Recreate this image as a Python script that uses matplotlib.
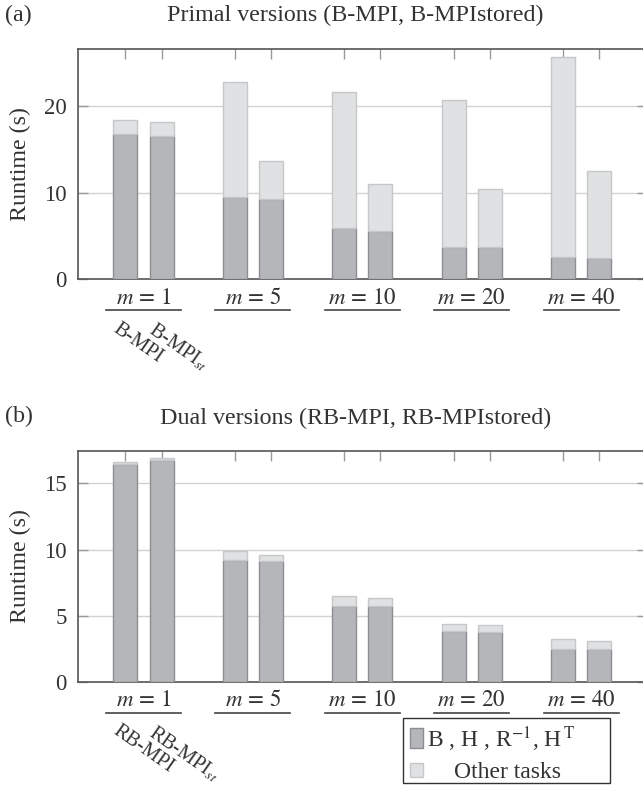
import matplotlib
matplotlib.use("Agg")
import matplotlib.pyplot as plt
import matplotlib.transforms as mtransforms
from matplotlib.patches import Rectangle
from matplotlib.lines import Line2D
import numpy as np

plt.rcParams['font.family'] = ['Liberation Serif', 'DejaVu Serif']
plt.rcParams['mathtext.fontset'] = 'stix'
plt.rcParams['font.size'] = 17

groups = ["1", "5", "10", "20", "40"]

# Primal versions (a)
bmpi_core = [16.8, 9.46, 5.95, 3.69, 2.54]
bmpi_other = [1.54, 13.34, 15.62, 16.99, 23.06]
bmpist_core = [16.5, 9.3, 5.57, 3.67, 2.42]
bmpist_other = [1.6, 4.3, 5.43, 6.71, 10.04]

# Dual versions (b)
rbmpi_core = [16.43, 9.21, 5.71, 3.82, 2.46]
rbmpi_other = [0.15, 0.7, 0.75, 0.55, 0.76]
rbmpist_core = [16.74, 9.13, 5.76, 3.79, 2.46]
rbmpist_other = [0.19, 0.45, 0.55, 0.48, 0.63]

DARK = '#b4b6b9'
DARK_E = '#8c8e91'
LIGHT = '#e0e1e3'
LIGHT_E = '#c6c7c9'
SPINE = '#555555'
TXT = '#333333'

W, H = 643, 796
fig = plt.figure(figsize=(W / 100, H / 100), dpi=100)

def px(v):
    return v * 0.72  # pixels -> points at dpi 100

def panel(rect, core1, other1, core2, other2, ylim, yticks, names, title, tag, title_y, tag_y):
    ax = fig.add_axes(rect)
    x = np.arange(len(groups))
    off = 0.1655
    bw = 0.22
    for xs, core, other in [(x - off, core1, other1), (x + off, core2, other2)]:
        ax.bar(xs, core, width=bw, color=DARK, edgecolor=DARK_E, linewidth=1.0, zorder=3)
        ax.bar(xs, other, width=bw, bottom=core, color=LIGHT, edgecolor=LIGHT_E, linewidth=1.0, zorder=3)
    ax.set_xlim(-0.601, 4.6)
    ax.set_ylim(*ylim)
    ax.set_yticks(yticks)
    ax.yaxis.grid(True, color='#d2d2d2', linewidth=1.0, zorder=0)
    ax.set_axisbelow(True)
    ax.tick_params(axis='y', direction='in', length=7, width=1.0, color='#9a9a9a', right=True,
                   labelsize=16.5, pad=8, labelcolor=TXT)
    ax.set_xticks(np.concatenate([x - off, x + off]))
    ax.tick_params(axis='x', direction='in', length=7, width=1.0, color='#9a9a9a', top=True,
                   bottom=False, labelbottom=False)
    for s in ax.spines.values():
        s.set_color(SPINE)
        s.set_linewidth(1.2)
    ax.set_ylabel('Runtime (s)', fontsize=17.3, labelpad=9, color=TXT)

    blend = mtransforms.blended_transform_factory(ax.transData, ax.transAxes)
    lab_t = mtransforms.offset_copy(blend, fig, y=-px(19.0), units='points')
    line_t = mtransforms.offset_copy(blend, fig, y=-px(30.7), units='points')
    rot_t = mtransforms.offset_copy(blend, fig, x=-px(5), y=-px(40), units='points')
    for i, g in enumerate(groups):
        ax.text(i, 0, '$m\\,=\\,' + g + '$', transform=lab_t, ha='center', va='center',
                fontsize=16.5, color=TXT)
        ax.add_line(Line2D([i - 0.342, i + 0.342], [0, 0], transform=line_t, color='#444444',
                           linewidth=1.2, clip_on=False))
    ax.text(0 - off, 0, names[0], transform=rot_t, rotation=-35, rotation_mode='anchor',
            ha='left', va='top', fontsize=14.5, color=TXT)
    ax.text(0 + off, 0, names[1], transform=rot_t, rotation=-35, rotation_mode='anchor',
            ha='left', va='top', fontsize=14.5, color=TXT)
    fig.text(355.5 / W, 1 - title_y / H, title, ha='center', va='center', fontsize=17.3, color=TXT)
    fig.text(5 / W, 1 - tag_y / H, tag, ha='left', va='center', fontsize=17.3, color=TXT)
    return ax

ax1 = panel([0.1208, 0.6491, 0.885, 0.2893], bmpi_core, bmpi_other, bmpist_core, bmpist_other,
            (0, 26.56), [0, 10, 20], ['B-MPI', 'B-MPI$_{st}$'],
            'Primal versions (B-MPI, B-MPIstored)', '(a)', 15, 15)
ax2 = panel([0.1208, 0.1433, 0.885, 0.2901], rbmpi_core, rbmpi_other, rbmpist_core, rbmpist_other,
            (0, 17.44), [0, 5, 10, 15], ['RB-MPI', 'RB-MPI$_{st}$'],
            'Dual versions (RB-MPI, RB-MPIstored)', '(b)', 418, 416)

# legend box (figure pixel coords)
def fr(xp, yp):
    return xp / W, 1 - yp / H

x0, y0 = fr(402.7, 783.3)
x1, y1 = fr(610, 718.3)
fig.add_artist(Rectangle((x0, y0), x1 - x0, y1 - y0, transform=fig.transFigure,
                         facecolor='white', edgecolor='#333333', linewidth=1.0, zorder=5))
px0, py0 = fr(410, 748)
px1, py1 = fr(423.3, 728)
fig.add_artist(Rectangle((px0, py0), px1 - px0, py1 - py0, transform=fig.transFigure,
                         facecolor=DARK, edgecolor=DARK_E, linewidth=1.0, zorder=6))
px0, py0 = fr(410, 777)
px1, py1 = fr(423.3, 763)
fig.add_artist(Rectangle((px0, py0), px1 - px0, py1 - py0, transform=fig.transFigure,
                         facecolor=LIGHT, edgecolor=LIGHT_E, linewidth=1.0, zorder=6))
tx, ty = fr(426.7, 739)
fig.text(tx, ty, 'B , H , R$^{-1}$, H$^{\\,\\mathrm{T}}$', ha='left', va='center', fontsize=17,
         zorder=7, color=TXT)
tx, ty = fr(508, 773)
fig.text(tx, ty, 'Other tasks', ha='center', va='center', fontsize=17, zorder=7, color=TXT)

fig.savefig('out.png', dpi=100)
